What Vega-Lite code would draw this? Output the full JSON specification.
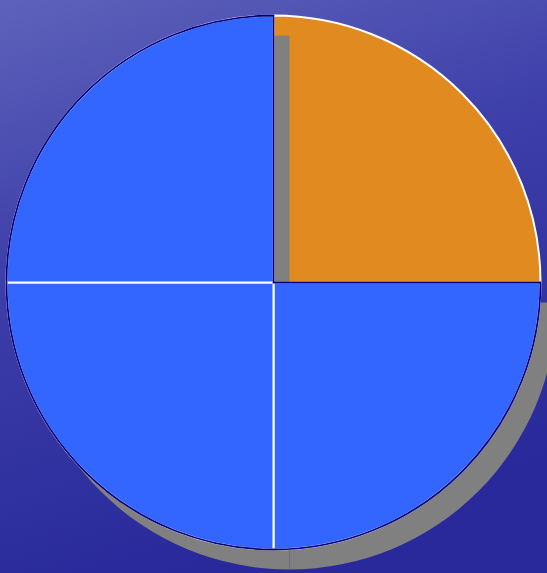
{
  "$schema": "https://vega.github.io/schema/vega-lite/v6.json",
  "width": 547,
  "height": 573,
  "autosize": {"type": "none"},
  "padding": 0,
  "config": {"view": {"stroke": null}},
  "datasets": {
    "pie": [
      {"slice": "A", "share": 25, "tone": "orange"},
      {"slice": "B", "share": 25, "tone": "blue"},
      {"slice": "C", "share": 25, "tone": "blue"},
      {"slice": "D", "share": 25, "tone": "blue"}
    ],
    "outline": [
      {"part": "a", "share": 25},
      {"part": "b", "share": 75}
    ],
    "bg": [{"k": 1}]
  },
  "layer": [
    {
      "data": {"name": "bg"},
      "mark": {
        "type": "rect",
        "color": {
          "gradient": "linear", "x1": 0, "y1": 0, "x2": 0.3, "y2": 1,
          "stops": [
            {"offset": 0, "color": "#5e62ba"},
            {"offset": 0.45, "color": "#3d3ea9"},
            {"offset": 1, "color": "#29299b"}
          ]
        }
      },
      "encoding": {}
    },
    {
      "data": {"name": "pie"},
      "mark": {"type": "arc", "radius": 267, "yOffset": -4, "stroke": "#ffffff", "strokeWidth": 2, "fill": "#e08a1f"},
      "encoding": {
        "theta": {"field": "share", "type": "quantitative", "stack": true},
        "order": {"field": "slice"},
        "fillOpacity": {"condition": {"test": "datum.tone === 'orange'", "value": 1}, "value": 0},
        "strokeOpacity": {"condition": {"test": "datum.tone === 'orange'", "value": 1}, "value": 0}
      }
    },
    {
      "data": {"name": "pie"},
      "mark": {"type": "arc", "radius": 267, "xOffset": 16, "yOffset": 16, "fill": "#808080"},
      "encoding": {
        "theta": {"field": "share", "type": "quantitative", "stack": true},
        "order": {"field": "slice"},
        "fillOpacity": {"condition": {"test": "datum.tone === 'orange'", "value": 0}, "value": 1}
      }
    },
    {
      "data": {"name": "pie"},
      "mark": {"type": "arc", "radius": 267, "yOffset": -4, "stroke": "#ffffff", "strokeWidth": 2, "fill": "#3366ff"},
      "encoding": {
        "theta": {"field": "share", "type": "quantitative", "stack": true},
        "order": {"field": "slice"},
        "fillOpacity": {"condition": {"test": "datum.tone === 'orange'", "value": 0}, "value": 1},
        "strokeOpacity": {"condition": {"test": "datum.tone === 'orange'", "value": 0}, "value": 1}
      }
    },
    {
      "data": {"name": "outline"},
      "mark": {"type": "arc", "radius": 267, "yOffset": -4, "stroke": "#000080", "strokeWidth": 1.8, "fill": null, "fillOpacity": 0},
      "encoding": {
        "theta": {"field": "share", "type": "quantitative", "stack": true},
        "order": {"field": "part"},
        "strokeOpacity": {"condition": {"test": "datum.part === 'b'", "value": 1}, "value": 0}
      }
    }
  ]
}
